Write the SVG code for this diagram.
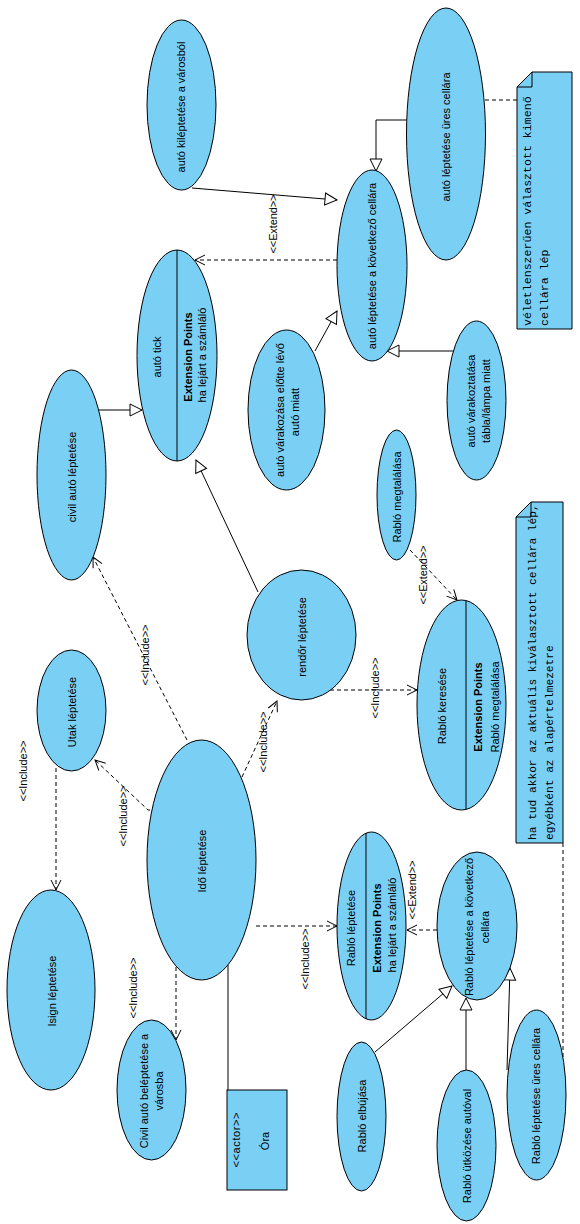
<svg xmlns="http://www.w3.org/2000/svg" width="580" height="1224" viewBox="0 0 580 1224">
<style>
.uc{fill:#7ACFF5;stroke:#000;stroke-width:1}
.t{font-family:"Liberation Sans",Arial,sans-serif;font-size:11px;fill:#000;text-anchor:middle;dominant-baseline:central}
.b{font-weight:bold}
.m{font-family:"Liberation Mono","Courier New",monospace;fill:#000;text-anchor:start;dominant-baseline:central}
.ln{fill:none;stroke:#000;stroke-width:1}
.gen{marker-end:url(#tri)}
.dep{stroke-dasharray:4,3;marker-end:url(#open)}
.dash{stroke-dasharray:4,3}
</style>
<defs>
<marker id="tri" markerUnits="userSpaceOnUse" markerWidth="16" markerHeight="16" refX="13" refY="7" orient="auto">
<path d="M1,1 L13,7 L1,13 Z" fill="#fff" stroke="#000" stroke-width="1"/>
</marker>
<marker id="open" markerUnits="userSpaceOnUse" markerWidth="14" markerHeight="14" refX="11" refY="6" orient="auto">
<path d="M1,1 L11,6 L1,11" fill="none" stroke="#000" stroke-width="1"/>
</marker>
</defs>
<rect width="580" height="1224" fill="#fff"/>

<g id="connectors">
<path class="ln gen" d="M192,188 L337,200"/>
<path class="ln gen" d="M407,120 L376,120 L376,171"/>
<path class="ln dep" d="M337,260 L195,260"/>
<path class="ln gen" d="M315,351 L337,311"/>
<path class="ln gen" d="M453,351 L387,351"/>
<path class="ln gen" d="M98,410 L142,410"/>
<path class="ln gen" d="M258,592 L196,460"/>
<path class="ln dep" d="M187,740 L93,557"/>
<path class="ln dep" d="M157,810 L148,810 L95,760"/>
<path class="ln dep" d="M56,768 L56,890"/>
<path class="ln dep" d="M176,967 L176,1040"/>
<path class="ln" d="M228,965 L228,1090"/>
<path class="ln dep" d="M256,926 L337,926"/>
<path class="ln dep" d="M330,690 L417,690"/>
<path class="ln dep" d="M242,777 L277,701"/>
<path class="ln dep" d="M410,550 L457,600"/>
<path class="ln dep" d="M437,930 L407,930"/>
<path class="ln gen" d="M375,1052 L452,986"/>
<path class="ln gen" d="M466,1070 L466,998"/>
<path class="ln gen" d="M507,1070 L510,968"/>
<path class="ln dash" d="M485,100 L517,100"/>
<path class="ln dash" d="M563,843 L563,1057"/>
<text class="t" transform="translate(273,224) rotate(-90)" textLength="59" lengthAdjust="spacing">&lt;&lt;Extend&gt;&gt;</text>
<text class="t" transform="translate(423,575) rotate(-90)" textLength="59" lengthAdjust="spacing">&lt;&lt;Extend&gt;&gt;</text>
<text class="t" transform="translate(375,688) rotate(-90)" textLength="61" lengthAdjust="spacing">&lt;&lt;Include&gt;&gt;</text>
<text class="t" transform="translate(263,742) rotate(-90)" textLength="61" lengthAdjust="spacing">&lt;&lt;Include&gt;&gt;</text>
<text class="t" transform="translate(145,655) rotate(-90)" textLength="61" lengthAdjust="spacing">&lt;&lt;Include&gt;&gt;</text>
<text class="t" transform="translate(123,816) rotate(-90)" textLength="61" lengthAdjust="spacing">&lt;&lt;Include&gt;&gt;</text>
<text class="t" transform="translate(23,771) rotate(-90)" textLength="61" lengthAdjust="spacing">&lt;&lt;Include&gt;&gt;</text>
<text class="t" transform="translate(133,988) rotate(-90)" textLength="61" lengthAdjust="spacing">&lt;&lt;Include&gt;&gt;</text>
<text class="t" transform="translate(305,959) rotate(-90)" textLength="61" lengthAdjust="spacing">&lt;&lt;Include&gt;&gt;</text>
<text class="t" transform="translate(412,890) rotate(-90)" textLength="59" lengthAdjust="spacing">&lt;&lt;Extend&gt;&gt;</text>
</g>

<g id="n-kileptetes">
<ellipse class="uc" cx="181.5" cy="105" rx="34.5" ry="85"/>
<text class="t" transform="translate(181,107) rotate(-90)">autó kiléptetése a városból</text>
</g>
<g id="n-ures-cellara">
<ellipse class="uc" cx="446" cy="134" rx="39.5" ry="126"/>
<text class="t" transform="translate(446,137) rotate(-90)">autó léptetése üres cellára</text>
</g>
<g id="note1">
<path class="uc" d="M517,87 L532,72 L572,72 L572,329 L517,329 Z"/>
<path class="ln" d="M517,87 L532,87 L532,72"/>
<text class="m" font-size="11.6" transform="translate(527,326) rotate(-90)">véletlenszerűen választott kimenő</text>
<text class="m" font-size="11.6" transform="translate(544,326) rotate(-90)">cellára lép</text>
</g>
<g id="n-kovetkezo">
<ellipse class="uc" cx="372" cy="265.5" rx="35" ry="95.5"/>
<text class="t" transform="translate(372,266) rotate(-90)">autó léptetése a következő cellára</text>
</g>
<g id="n-tick">
<ellipse class="uc" cx="177" cy="355.5" rx="40" ry="105.5"/>
<path class="ln" d="M177,250 L177,461"/>
<text class="t" transform="translate(157,357) rotate(-90)">autó tick</text>
<text class="t b" transform="translate(188,357) rotate(-90)">Extension Points</text>
<text class="t" transform="translate(202,355) rotate(-90)">ha lejárt a számláló</text>
</g>
<g id="n-varakozasa">
<ellipse class="uc" cx="286.5" cy="410" rx="38.5" ry="80"/>
<text class="t" transform="translate(280,410) rotate(-90)">autó várakozása előtte lévő</text>
<text class="t" transform="translate(295,412) rotate(-90)">autó miatt</text>
</g>
<g id="n-varakoztatasa">
<ellipse class="uc" cx="476.5" cy="400.5" rx="29.5" ry="79.5"/>
<text class="t" transform="translate(471,401) rotate(-90)">autó várakoztatása</text>
<text class="t" transform="translate(486,401) rotate(-90)">tábla/lámpa miatt</text>
</g>
<g id="n-civil">
<ellipse class="uc" cx="71.5" cy="475" rx="34.5" ry="105"/>
<text class="t" transform="translate(72,477) rotate(-90)">civil autó léptetése</text>
</g>
<g id="n-rendor">
<ellipse class="uc" cx="301.5" cy="635" rx="54.5" ry="65"/>
<text class="t" transform="translate(302,637) rotate(-90)">rendőr léptetése</text>
</g>
<g id="n-megtalalasa">
<ellipse class="uc" cx="396.5" cy="495" rx="19.5" ry="65"/>
<text class="t" transform="translate(397,497) rotate(-90)">Rabló megtalálása</text>
</g>
<g id="n-kereses">
<ellipse class="uc" cx="461.5" cy="705" rx="44.5" ry="105"/>
<path class="ln" d="M466,600.5 L466,809.5"/>
<text class="t" transform="translate(442,706) rotate(-90)">Rabló keresése</text>
<text class="t b" transform="translate(478,707) rotate(-90)">Extension Points</text>
<text class="t" transform="translate(495,707) rotate(-90)">Rabló megtalálása</text>
</g>
<g id="note2">
<path class="uc" d="M516,517 L531,502 L563,502 L563,843 L516,843 Z"/>
<path class="ln" d="M516,517 L531,517 L531,502"/>
<text class="m" font-size="11.2" transform="translate(533,840) rotate(-90)">ha tud akkor az aktuális kiválasztott cellára lép,</text>
<text class="m" font-size="11.2" transform="translate(550,840) rotate(-90)">egyébként az alapértelmezetre</text>
</g>
<g id="n-utak">
<ellipse class="uc" cx="71.5" cy="710.5" rx="34.5" ry="60.5"/>
<text class="t" transform="translate(72,712) rotate(-90)">Utak léptetése</text>
</g>
<g id="n-ido">
<ellipse class="uc" cx="201.5" cy="860" rx="54.5" ry="120"/>
<text class="t" transform="translate(202,861) rotate(-90)">Idő léptetése</text>
</g>
<g id="n-isign">
<ellipse class="uc" cx="51" cy="990" rx="44" ry="100"/>
<text class="t" transform="translate(52,991) rotate(-90)">Isign léptetése</text>
</g>
<g id="n-civil-belep">
<ellipse class="uc" cx="151.5" cy="1090" rx="34.5" ry="70"/>
<text class="t" transform="translate(144,1091) rotate(-90)">Civil autó beléptetése a</text>
<text class="t" transform="translate(159,1091) rotate(-90)">városba</text>
</g>
<g id="n-ora">
<rect class="uc" x="227" y="1090" width="60" height="100"/>
<text class="t" transform="translate(236,1140) rotate(-90)" textLength="55" lengthAdjust="spacing">&lt;&lt;actor&gt;&gt;</text>
<text class="t" transform="translate(265,1141) rotate(-90)">Óra</text>
</g>
<g id="n-rablo-lept">
<ellipse class="uc" cx="371.5" cy="926" rx="34.5" ry="94"/>
<path class="ln" d="M366,833 L366,1019"/>
<text class="t" transform="translate(351,928) rotate(-90)">Rabló léptetése</text>
<text class="t b" transform="translate(377,928) rotate(-90)">Extension Points</text>
<text class="t" transform="translate(392,925) rotate(-90)">ha lejárt a számláló</text>
</g>
<g id="n-rablo-kov">
<ellipse class="uc" cx="477" cy="926" rx="40" ry="74"/>
<text class="t" transform="translate(469,927) rotate(-90)">Rabló léptetése a következő</text>
<text class="t" transform="translate(485,927) rotate(-90)">cellára</text>
</g>
<g id="n-elbujas">
<ellipse class="uc" cx="361.5" cy="1116.5" rx="24.5" ry="74.5"/>
<text class="t" transform="translate(362,1116) rotate(-90)">Rabló elbújása</text>
</g>
<g id="n-utkozes">
<ellipse class="uc" cx="466.5" cy="1145.5" rx="29.5" ry="75.5"/>
<text class="t" transform="translate(467,1146) rotate(-90)">Rabló ütközése autóval</text>
</g>
<g id="n-rablo-ures">
<ellipse class="uc" cx="536.5" cy="1095" rx="29.5" ry="85"/>
<text class="t" transform="translate(536,1096) rotate(-90)">Rabló léptetése üres cellára</text>
</g>
</svg>
